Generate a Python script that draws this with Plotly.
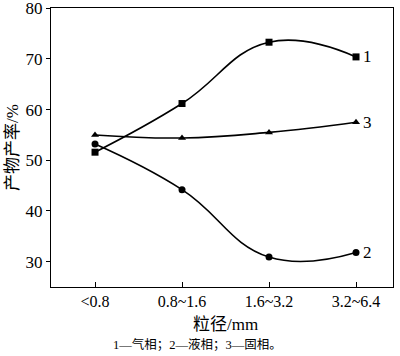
import plotly.graph_objects as go

categories = ["<0.8", "0.8~1.6", "1.6~3.2", "3.2~6.4"]
gas = [51.6, 61.2, 73.3, 70.4]
liquid = [53.2, 44.2, 30.9, 31.8]
solid = [55.0, 54.4, 55.5, 57.5]
series_labels = ["1", "2", "3"]

SERIF = "Liberation Serif"
CJK = "Liberation Serif, Noto Sans CJK SC"

fig = go.Figure()
for vals, sym, name in [(gas, "square", "1"), (liquid, "circle", "2"), (solid, "triangle-up", "3")]:
    fig.add_trace(go.Scatter(
        x=list(range(len(categories))), y=vals, mode="lines+markers",
        line=dict(color="black", width=1.6, shape="spline", smoothing=1.25),
        marker=dict(symbol=sym, size=7, color="black"),
        showlegend=False, name=name))

for vals, lab in zip([gas, liquid, solid], series_labels):
    fig.add_annotation(x=len(categories) - 1, y=vals[-1], text=lab, showarrow=False,
                       xanchor="left", xshift=5, font=dict(family=SERIF, size=17, color="black"))

fig.add_annotation(xref="paper", yref="paper", x=0.51, y=-0.135, text="粒径/mm",
                   showarrow=False, yanchor="middle", font=dict(family=CJK, size=17, color="black"))
fig.add_annotation(xref="paper", yref="paper", x=0.427, y=-0.206, text="1—气相；2—液相；3—固相。",
                   showarrow=False, yanchor="middle", font=dict(family=CJK, size=12.5, color="black"))

fig.update_layout(
    width=400, height=356,
    margin=dict(l=51, r=7, t=8, b=69),
    plot_bgcolor="white", paper_bgcolor="white",
    font=dict(family=SERIF, size=15, color="black"),
    xaxis=dict(
        tickmode="array", tickvals=list(range(len(categories))), ticktext=categories,
        range=[-0.506, 3.425], showgrid=False, zeroline=False, automargin=False,
        showline=True, linecolor="black", linewidth=1.2, mirror=True,
        ticks="inside", ticklen=5, tickcolor="black", tickfont=dict(size=16)),
    yaxis=dict(
        range=[25, 80.05], tickvals=[30, 40, 50, 60, 70, 80], showgrid=False, zeroline=False,
        automargin=False, ticklabeloverflow="allow",
        showline=True, linecolor="black", linewidth=1.2, mirror=True,
        ticks="outside", ticklen=4, tickcolor="black", tickfont=dict(size=17),
        title=dict(text="产物产率/%", font=dict(family=CJK, size=17), standoff=2)),
)

fig.write_html("out.html", config={"displayModeBar": False},
               post_script="document.body.style.margin='0';document.body.style.overflow='hidden';")
